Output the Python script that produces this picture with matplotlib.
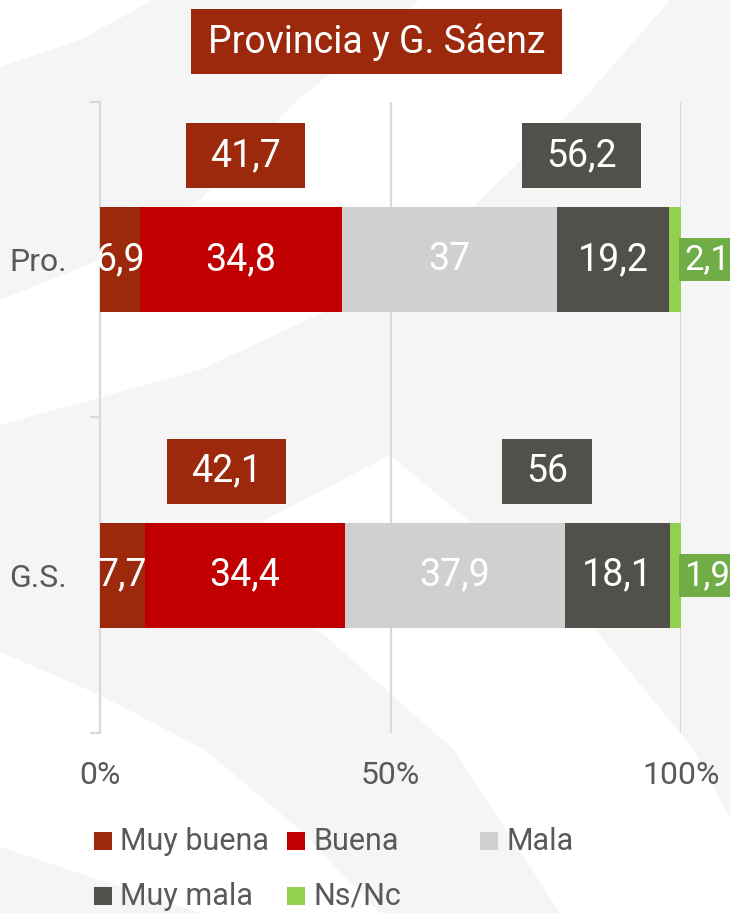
import matplotlib
matplotlib.use("Agg")
import matplotlib.pyplot as plt
from matplotlib import font_manager
from matplotlib.patches import Rectangle, Polygon

# ---- data ----
groups = ["Pro.", "G.S."]
categories = ["Muy buena", "Buena", "Mala", "Muy mala", "Ns/Nc"]
pro_values = [6.9, 34.8, 37, 19.2, 2.1]
gs_values = [7.7, 34.4, 37.9, 18.1, 1.9]
positive_totals = [41.7, 42.1]
negative_totals = [56.2, 56]
xticks = [0, 50, 100]
xtick_labels = ["0%", "50%", "100%"]
title = "Provincia y G. Sáenz"

colors = ["#9C290B", "#C00000", "#D0D0D0", "#52504B", "#92D050"]
nsnc_box = "#70AD47"
text_grey = "#595959"
grid_grey = "#D9D9D9"

# pick a narrow font if there is one
font = "DejaVu Sans"
for f in ["Liberation Sans Narrow", "Roboto", "Open Sans"]:
    try:
        font_manager.findfont(f, fallback_to_default=False)
        font = f
        break
    except Exception:
        pass
plt.rcParams["font.family"] = [font, "DejaVu Sans"]

W, H = 730, 913
fig = plt.figure(figsize=(W / 100, H / 100), dpi=100)
fig.patch.set_facecolor("#F5F5F5")


def px(pts):
    return [(x / W, 1 - y / H) for x, y in pts]


# faint background swirl (white bands on light grey)
bands = [
    [(0, 0), (153, 0), (80, 40), (0, 67)],
    [(419, 0), (670, 0), (583, 100), (470, 210), (350, 300), (200, 370), (0, 425),
     (0, 300), (100, 260), (200, 200), (298, 100)],
    [(390, 455), (480, 530), (594, 628), (694, 750), (780, 913), (560, 913),
     (454, 750), (316, 628), (260, 560), (246, 530)],
    [(0, 652), (100, 695), (205, 750), (300, 830), (380, 913), (200, 913),
     (100, 880), (0, 847)],
]
for b in bands:
    fig.patches.append(Polygon(px(b), closed=True, transform=fig.transFigure,
                               facecolor="white", edgecolor="none", zorder=-10))

ax = fig.add_axes([100 / W, 180 / H, 581 / W, 631 / H])
ax.set_facecolor("none")
ax.set_xlim(0, 100)
ax.set_ylim(0, 2)

ypos = [1.5, 0.5]
bar_h = 0.333
rows = [pro_values, gs_values]

for y, vals in zip(ypos, rows):
    left = 0
    for i, v in enumerate(vals):
        ax.barh(y, v, left=left, height=bar_h, color=colors[i], zorder=3)
        lab = f"{v:g}".replace(".", ",")
        if i < 4:
            ax.text(left + v / 2, y, lab, ha="center", va="center", color="white",
                    fontsize=27, zorder=4)
        else:
            t = ax.text(100.6, y, lab, ha="left", va="center", color="white",
                        fontsize=25, zorder=6, clip_on=False)
            t.set_bbox(dict(boxstyle="square,pad=0.15", fc=nsnc_box, ec="none"))
        left += v

# totals above the bars
pos_x = [25.1, 21.7]
neg_x = [82.9, 77.0]
fig.canvas.draw()
renderer = fig.canvas.get_renderer()
for y, p, n, px_, nx_ in zip(ypos, positive_totals, negative_totals, pos_x, neg_x):
    for val, xc, col in [(p, px_, colors[0]), (n, nx_, colors[3])]:
        lab = f"{val:g}".replace(".", ",")
        t = ax.text(xc, y + 0.33, lab, ha="center", va="center", color="white",
                    fontsize=27, zorder=6)
        bb = t.get_window_extent(renderer)
        wd = (bb.width + 48) / 581 * 100
        ht = 65 / 631 * 2
        ax.add_patch(Rectangle((xc - wd / 2, y + 0.33 - ht / 2), wd, ht,
                               facecolor=col, edgecolor="none", zorder=5))

# grid & spines
for gx in [50, 100]:
    ax.axvline(gx, color=grid_grey, lw=1.6, zorder=1)
for s in ["top", "right", "bottom"]:
    ax.spines[s].set_visible(False)
ax.spines["left"].set_color(grid_grey)
ax.spines["left"].set_linewidth(1.6)

ax.set_xticks(xticks)
ax.set_xticklabels(xtick_labels)
ax.tick_params(axis="x", length=0, pad=20, labelsize=23, labelcolor=text_grey)

ax.set_yticks([0, 1, 2])
ax.set_yticklabels([])
ax.tick_params(axis="y", which="major", length=7, width=1.6, color=grid_grey)
ax.set_yticks(ypos, minor=True)
ax.set_yticklabels(groups, minor=True)
ax.tick_params(axis="y", which="minor", length=0, pad=24, labelsize=23,
               labelcolor=text_grey)

# title box
fig.patches.append(Rectangle((191 / W, 1 - 74 / H), 371 / W, 65 / H,
                             transform=fig.transFigure, facecolor=colors[0],
                             edgecolor="none"))
fig.text(376.5 / W, 1 - 42 / H, title, ha="center", va="center", color="white",
         fontsize=27)

# legend, laid out by hand in three columns
leg_cols = [94, 287, 480]
leg_rows = [841, 896]
for i, (name, col) in enumerate(zip(categories, colors)):
    r, c = divmod(i, 3)
    x0, yc = leg_cols[c], leg_rows[r]
    fig.patches.append(Rectangle((x0 / W, 1 - (yc + 9) / H), 18 / W, 18 / H,
                                 transform=fig.transFigure, facecolor=col,
                                 edgecolor="none"))
    fig.text((x0 + 26) / W, 1 - yc / H, name, ha="left", va="center",
             color=text_grey, fontsize=22)

fig.savefig("out.png", dpi=100, facecolor=fig.get_facecolor())
